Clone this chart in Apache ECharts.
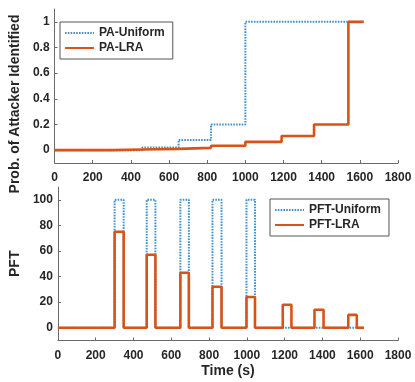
<!DOCTYPE html>
<html>
<head>
<meta charset="utf-8">
<script src="https://cdn.jsdelivr.net/npm/echarts@6/dist/echarts.min.js"></script>
<style>html,body{margin:0;padding:0;background:#fff}#c{width:415px;height:382px}</style>
</head>
<body>
<div id="c"></div>
<script>
// ---- Data ----
// Top panel: step functions, value holds from time[i] until time[i+1]
const paTime        = [0, 300, 460, 650, 820, 1000, 1190, 1360, 1540, 1620];
const paUniform     = [0, 0, 0.02, 0.08, 0.2, 1, 1, 1, 1, 1];
const paLRA         = [0, 0.005, 0.01, 0.018, 0.035, 0.065, 0.11, 0.2, 1, 1];
// Bottom panel: pulse edges
const pftTime       = [0, 300, 348, 470, 516, 648, 693, 818, 866, 998, 1043, 1190, 1236, 1358, 1406, 1537, 1582, 1620];
const pftUniform    = [0, 100, 0, 100, 0, 100, 0, 100, 0, 100, 0, 0, 0, 0, 0, 0, 0, 0];
const pftLRA        = [0, 75, 0, 57, 0, 43, 0, 32, 0, 24, 0, 18, 0, 14, 0, 10, 0, 0];
const xTicks        = [0, 200, 400, 600, 800, 1000, 1200, 1400, 1600, 1800];
const yTicksTop     = [0, 0.2, 0.4, 0.6, 0.8, 1];
const yTicksBottom  = [0, 20, 40, 60, 80, 100];

const pair = (t, v) => t.map((x, i) => [x, v[i]]);

const BLUE = '#3f92cf', ORANGE = '#d95319', AX = '#6b6b6b', TXT = '#262626';
const FONT = '"Liberation Sans", Arial, Helvetica, sans-serif';
const fmt = v => String(+(+v).toFixed(2));

function xAxis(gi) {
  return {
    gridIndex: gi, type: 'value', min: 0, max: 1800,
    axisLine: {onZero: false, lineStyle: {color: AX, width: 1}},
    axisTick: {inside: true, length: 3, lineStyle: {color: AX}, customValues: xTicks},
    splitLine: {show: false},
    axisLabel: {margin: 9, fontSize: 12, fontWeight: 'bold', color: TXT, fontFamily: FONT,
                customValues: xTicks, formatter: fmt},
    name: gi === 1 ? 'Time (s)' : '', nameLocation: 'middle', nameGap: 24,
    nameTextStyle: {fontSize: 14, fontWeight: 'bold', color: TXT, fontFamily: FONT}
  };
}
function yAxis(gi, min, max, ticks, name, pad) {
  return {
    gridIndex: gi, type: 'value', min: min, max: max,
    axisLine: {show: true, lineStyle: {color: AX, width: 1}},
    axisTick: {show: true, inside: true, length: 3, lineStyle: {color: AX}, customValues: ticks},
    splitLine: {show: false},
    axisLabel: {margin: 5, fontSize: 12, fontWeight: 'bold', color: TXT, fontFamily: FONT,
                customValues: ticks, formatter: fmt},
    name: name, nameLocation: 'middle', nameGap: 24,
    nameTextStyle: {fontSize: 14, fontWeight: 'bold', color: TXT, fontFamily: FONT, padding: pad}
  };
}

const legendBase = {
  orient: 'vertical', itemWidth: 29, itemHeight: 12, itemGap: 3, padding: [5, 8, 5, 4],
  borderColor: '#555', borderWidth: 1, backgroundColor: '#fff',
  itemStyle: {opacity: 0},
  textStyle: {fontSize: 12, fontWeight: 'bold', color: TXT, fontFamily: FONT}
};

const chart = echarts.init(document.getElementById('c'), null, {renderer: 'canvas'});
chart.setOption({
  animation: false,
  backgroundColor: '#fff',
  grid: [
    {left: 48, right: 17, top: 9, height: 154},
    {left: 48, right: 17, top: 187, height: 153.5}
  ],
  xAxis: [xAxis(0), xAxis(1)],
  yAxis: [
    yAxis(0, -0.1, 1.1, yTicksTop, 'Prob. of Attacker Identified', [0, 36, 0, 0]),
    yAxis(1, -10, 110, yTicksBottom, 'PFT', [0, 0, 0, 0])
  ],
  legend: [
    Object.assign({}, legendBase, {data: ['PA-Uniform', 'PA-LRA'], left: 60, top: 22}),
    Object.assign({}, legendBase, {data: ['PFT-Uniform', 'PFT-LRA'], left: 270, top: 199})
  ],
  series: [
    {name: 'PA-Uniform', type: 'line', step: 'end', xAxisIndex: 0, yAxisIndex: 0, symbol: 'none',
     data: pair(paTime, paUniform), lineStyle: {color: BLUE, width: 2, type: [1.6, 1.2]}, itemStyle: {color: BLUE}},
    {name: 'PA-LRA', type: 'line', step: 'end', xAxisIndex: 0, yAxisIndex: 0, symbol: 'none',
     data: pair(paTime, paLRA), lineStyle: {color: ORANGE, width: 2.6}, itemStyle: {color: ORANGE}},
    {name: 'PFT-Uniform', type: 'line', step: 'end', xAxisIndex: 1, yAxisIndex: 1, symbol: 'none',
     data: pair(pftTime, pftUniform), lineStyle: {color: BLUE, width: 2, type: [1.6, 1.2]}, itemStyle: {color: BLUE}},
    {name: 'PFT-LRA', type: 'line', step: 'end', xAxisIndex: 1, yAxisIndex: 1, symbol: 'none',
     data: pair(pftTime, pftLRA), lineStyle: {color: ORANGE, width: 2.6}, itemStyle: {color: ORANGE}}
  ]
});
</script>
</body>
</html>
